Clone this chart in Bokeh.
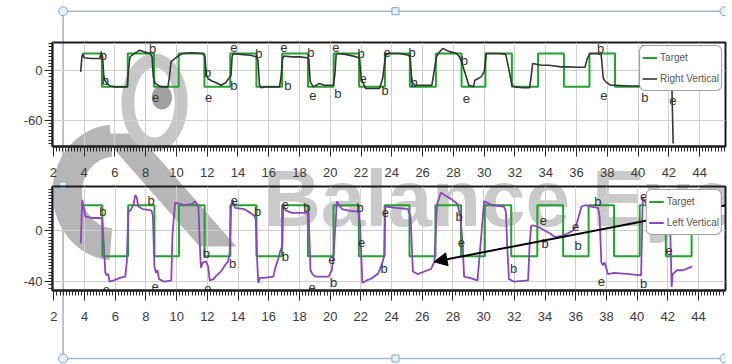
import numpy as np
from bokeh.plotting import figure
from bokeh.layouts import column
from bokeh.models import (SingleIntervalTicker, Arrow, NormalHead, Range1d,
                          PrintfTickFormatter)
from bokeh.core.properties import value
from bokeh.embed import file_html
from bokeh.resources import INLINE

# ------------------------------------------------------------------ data
target_x = [3.97, 5.16, 6.84, 8.55, 10.15, 11.82, 13.50, 15.20, 16.87, 18.55,
            20.22, 21.87, 23.55, 25.17, 26.86, 28.53, 30.08, 31.80, 33.50,
            35.18, 36.84, 38.50, 40.17, 41.87, 43.55, 43.60]
target_y = [20, -20, 20, -20, 20, -20, 20, -20, 20, -20, 20, -20, 20, -20,
            20, -20, 20, -20, 20, -20, 20, -20, 20, -20, 20, 20]

right_x = [3.78, 3.86, 3.92, 4.0, 4.5, 5.02, 5.1, 5.2, 5.28, 5.35, 5.5, 5.7, 6.0, 6.8,
           6.88, 6.98, 7.2, 7.45, 7.6, 7.9, 8.3, 8.42, 8.5, 8.6, 8.8, 9.0, 9.45,
           9.55, 9.65, 9.9, 10.1, 10.4, 11.0, 11.7, 11.85, 11.95, 12.05, 12.3, 12.6, 12.9, 13.2, 13.4, 13.55,
           13.62, 13.7, 14.2, 14.8, 15.2, 15.3, 15.4, 15.5, 15.8, 16.7,
           16.8, 16.9, 17.0, 17.5, 18.0, 18.5, 18.6, 18.7, 18.9, 19.3, 19.6, 20.2,
           20.3, 20.38, 20.5, 21.0, 21.7, 21.9, 22.0, 22.1, 22.3, 23.2, 23.4,
           23.6, 23.8, 24.5, 25.1, 25.2, 25.3, 25.5, 26.6,
           26.9, 27.1, 27.3, 27.8, 28.2, 28.4, 28.6, 29.0, 29.3, 29.4, 29.8, 30.0,
           30.14, 31.0, 31.4, 31.55, 31.8, 32.0, 32.5, 32.95, 33.05, 33.15, 33.7, 34.2,
           35.0, 35.5, 36.0, 36.55, 36.7, 36.87, 37.3, 37.6, 37.74, 37.9, 38.2, 38.5,
           39.5, 40.15, 40.3, 40.4, 41.0, 41.8, 42.0, 42.2, 42.28]
right_y = [-2, 16, 20, 15, 14, 14, 20, 17, -6, -12, -16, -19, -20, -20,
           -2, 16, 19, 22, 24, 22, 20, 16, -8, -15, -18, -20, -20,
           -8, 10, 14, 17, 20, 21, 20, 17, -6, -10, -13, -15, -18, -15, -10, -6,
           16, 20, 19, 18, 16, 12, -18, -21, -20, -20,
           -8, 14, 17, 16, 16, 15, 14, -14, -20, -16, -18, -18,
           -5, 19, 20, 19, 16, 14, -8, -14, -22, -22, -10,
           18, 20, 20, 18, 14, -14, -18, -18,
           16, 22, 26, 22, 20, 16, 6, -18, -20, -12, -8, -2,
           20, 20, 19, 6, -18, -20, -21, -21, -8, 8, 6, 6,
           4, 4, 3.5, 3.6, 14, 20, 20, 19, -10, -14, -18, -18,
           -19, -19, -5, 20, 20, 20, 10, -22, -88]

left_x = [3.75, 3.85, 3.95, 4.05, 4.5, 5.05, 5.15, 5.25, 5.35, 5.45, 5.55, 5.62, 5.9, 6.3, 6.65, 6.75, 6.85,
          7.0, 7.2, 7.3, 7.4, 7.5, 7.8, 8.35, 8.45, 8.55, 8.65, 8.75, 8.85, 9.2, 9.65, 9.72, 9.8, 9.9,
          10.2, 10.5, 11.0, 11.2, 11.3, 11.42, 11.5, 11.58, 11.7, 11.9, 12.05, 12.15, 12.4, 12.6, 12.8, 13.0, 13.15, 13.35, 13.45,
          13.55, 13.65, 13.8, 14.4, 14.8, 15.05, 15.15, 15.25, 15.32, 15.42, 15.7, 16.3, 16.45, 16.6, 16.75,
          16.88, 16.95, 17.1, 17.5, 18.0, 18.6, 18.72, 18.85, 19.04, 19.5, 19.9, 20.11, 20.22,
          20.44, 20.77, 21.3, 21.84, 21.95, 22.1, 22.38, 22.7, 23.13, 23.35, 23.52,
          23.6, 24.3, 25.07, 25.24, 25.39, 25.71, 26.14, 26.58, 26.8,
          26.97, 27.22, 27.44, 27.87, 28.3, 28.48, 28.63, 28.73, 29.1, 29.6, 29.86,
          30.03, 30.6, 31.32, 31.45, 31.55, 31.65, 32.0, 32.9, 33.0, 33.1, 33.3, 33.57, 34.0, 34.3, 34.65, 35.1, 35.5, 35.8, 36.0,
          36.38, 36.6, 37.0, 37.45, 37.56, 37.67, 37.78, 37.89, 38.1, 38.5, 39.5, 40.26,
          40.37, 40.5, 40.7, 41.2, 42.0, 42.15, 42.25, 42.32, 42.6, 43.0, 43.3, 43.6]
left_y = [-10, 24, 18, 11, 10, 10, 9, -10, -33, -35, -34, -40, -39, -37, -36, -25, 15,
          16, 21, 28, 26, 19, 17, 16, 12, -28, -33, -31, -38, -40, -39, -5, 8, 22,
          21, 20, 21, 23, 21, 19, -8, -29, -25, -24, -28, -39, -38, -35, -33, -30, -27, -24, -18,
          20, 24, 18, 17, 14, 12, 9, -25, -41, -37, -37, -36, -28, -23, -16,
          -12, 20, 16, 14, 14, 14, -31, -34, -36, -36, -36, -31, -20,
          23, 17, 15.5, 15, 5, -41, -39, -37.5, -33.6, -27, -20,
          19, 18, 17, 11, -32, -34, -32, -30, -24,
          21, 30, 28, 25, 21, 11, -10, -36, -37, -39, -2,
          23, 20, 19, 15, -15, -38, -40, -39, -10, 4, 4, 3, 0, -2, -5, -4, -2, 0, 3,
          19, 20, 19, 18, 11, -25, -27, -25, -34, -33, -34, -35,
          26, 23, 20, 19, 18, 5, -44, -34, -31, -31, -29.5, -28]

top_mark_x = [5.26, 5.39, 8.45, 8.65, 12.03, 12.1, 13.73, 13.73, 15.36, 16.98, 17.24,
              18.74, 18.87, 20.5, 20.37, 22.0, 22.13, 23.69, 23.56, 25.32, 25.45,
              28.71, 28.84, 37.57, 37.77, 40.37, 40.44, 42.26]
top_mark_y = [17.6, -12.4, 26, -32.8, -2.8, -32.8, 27.2, -18.4, 20, 27.2, -18.4,
              21.2, -30.4, -28, 27.2, 20, -10, 21.2, -24.4, 21.2, -14.8,
              11.6, -34, 26, -30.4, 27.2, -32.8, -36.4]
top_mark_text = ["b", "b", "b", "e", "b", "e", "e", "b", "b", "e", "b",
                 "b", "e", "b", "e", "b", "e", "e", "b", "b", "b",
                 "b", "e", "b", "e", "e", "b", "e"]

bot_mark_x = [5.19, 5.42, 8.33, 8.59, 11.93, 13.65, 12.04, 13.76, 15.27, 17.09, 17.09,
              18.48, 18.82, 20.11, 20.22, 21.95, 22.05, 23.52, 23.6, 28.41, 28.55,
              31.96, 33.9, 34.0, 35.99, 36.16, 37.45, 37.67, 40.43, 40.43, 42.08]
bot_mark_y = [14.8, -46, 24, -44, -17.9, -25.7, -45, 24, 14.8, -20.2, 20.8,
              18.2, -44.9, -22.8, -40.6, 18.2, -9.3, -29.6, 14.5, 10.9, -9,
              -29.6, 8.2, -10, 3, -11.4, 22.6, -40, -41.4, 26.6, -15.3]
bot_mark_text = ["b", "e", "b", "e", "b", "b", "e", "e", "b", "b", "e",
                 "b", "e", "e", "b", "b", "e", "b", "e", "b", "e",
                 "b", "e", "b", "e", "b", "b", "e", "b", "e", "e"]

watermark_text = "Balance Eye"

# ------------------------------------------------------------------ style / layout
FONT = "Liberation Sans"
GREEN = "#23a22f"
DARK = "#353535"
PURPLE = "#8a47bd"
PAGE_W, PAGE_H = 732, 364
PH = 182  # height of each panel figure

TOP = dict(L=52, R=725, T=42, B=146, x=(1.95, 45.68), y=(-91.6, 33.25), top=0)
BOT = dict(L=46, R=725, T=186, B=290, x=(1.91, 45.76), y=(-46.9, 34.7), top=182)


def to_data(m, px, py):
    X = m["x"][0] + (px - m["L"]) / (m["R"] - m["L"]) * (m["x"][1] - m["x"][0])
    Y = m["y"][1] - (py - m["T"]) / (m["B"] - m["T"]) * (m["y"][1] - m["y"][0])
    return float(X), float(Y)


def make_panel(m, yint, yminor):
    p = figure(width=PAGE_W, height=PH, x_range=Range1d(*m["x"]), y_range=Range1d(*m["y"]),
               output_backend="svg", toolbar_location=None,
               min_border_left=m["L"], min_border_right=PAGE_W - m["R"],
               min_border_top=m["T"] - m["top"], min_border_bottom=m["top"] + PH - m["B"])
    p.background_fill_alpha = 0
    p.border_fill_alpha = 0
    p.outline_line_color = "#1c1c1c"
    p.outline_line_width = 2
    p.xaxis.ticker = SingleIntervalTicker(interval=2, num_minor_ticks=10)
    p.yaxis.ticker = SingleIntervalTicker(interval=yint, num_minor_ticks=yminor)
    p.yaxis.formatter = PrintfTickFormatter(format="%d")
    p.xgrid.ticker = SingleIntervalTicker(interval=2)
    p.ygrid.ticker = SingleIntervalTicker(interval=yint)
    for g in (p.xgrid, p.ygrid):
        g.grid_line_color = "#d0d0d0"
        g.grid_line_width = 1
    for ax in (p.xaxis, p.yaxis):
        ax.axis_line_color = "#1c1c1c"
        ax.axis_line_width = 2
        ax.major_tick_line_color = "#2a2a2a"
        ax.minor_tick_line_color = "#2a2a2a"
        ax.major_tick_in = 0
        ax.minor_tick_in = 0
        ax.major_label_text_font = FONT
        ax.major_label_text_font_size = "13px"
        ax.major_label_text_color = "#3a3a3a"
    p.xaxis.major_tick_out = 10
    p.xaxis.minor_tick_out = 5
    p.xaxis.major_label_standoff = 11
    p.yaxis.major_tick_out = 8
    p.yaxis.minor_tick_out = 4
    p.yaxis.major_label_standoff = 2
    p.styles = {"position": "absolute", "left": "0px", "top": f"{m['top']}px"}
    return p


def style_legend(p):
    lg = p.legend[0]
    lg.location = "top_right"
    lg.margin = 3
    lg.padding = 2
    lg.spacing = 2
    lg.label_height = 19
    lg.glyph_height = 19
    lg.glyph_width = 15
    lg.label_standoff = 3
    lg.label_text_font = FONT
    lg.label_text_font_size = "10px"
    lg.label_text_color = "#555555"
    lg.border_line_color = "#444444"
    lg.border_line_width = 1.5
    lg.background_fill_color = "white"
    lg.background_fill_alpha = 1
    try:
        lg.border_radius = 6
    except AttributeError:
        pass


# ------------------------------------------------------------------ page background (watermark, selection frame)
bg = figure(width=PAGE_W, height=PAGE_H, x_range=Range1d(0, PAGE_W), y_range=Range1d(PAGE_H, 0),
            output_backend="svg", toolbar_location=None, min_border=0,
            x_axis_type=None, y_axis_type=None)
bg.grid.visible = False
bg.outline_line_color = None
bg.background_fill_color = "white"
bg.border_fill_color = "white"

a = np.linspace(0, 2 * np.pi, 73)
# logo: lower swirl
th = np.linspace(np.radians(95), np.radians(265), 40)
lx, ly, ro, ri = 68, 192, 68, 36
bg.patch(np.concatenate([lx + ro * np.cos(th), lx + ri * np.cos(th[::-1])]),
         np.concatenate([ly + ro * np.sin(th), ly + ri * np.sin(th[::-1])]),
         fill_color="#b6b6b6", line_alpha=0)
bg.patch([52, 92, 200, 160], [133, 133, 246, 246], fill_color="#b6b6b6", line_alpha=0)
# logo: ring + inner blob
cx, cy, rx, ry, t = 111, 102, 36, 49, 14
bg.patch(np.concatenate([cx + rx * np.cos(a), cx + (rx - t) * np.cos(a[::-1])]),
         np.concatenate([cy + ry * np.sin(a), cy + (ry - t) * np.sin(a[::-1])]),
         fill_color="#c6c6c6", line_alpha=0)
bg.patch(119 + 11 * np.cos(a), 97 + 12 * np.sin(a), fill_color="#a0a0a0", line_alpha=0)

bg.text(x=[229], y=[198], text=[watermark_text], text_font=value("Liberation Sans"),
        text_font_style="bold", text_font_size="80px", text_color="#cacaca",
        text_baseline="alphabetic", text_align="left")

SEL = "#a5b9ce"
bg.segment(x0=[11.5, 11.5, 11.5], y0=[10.7, 10.7, 358], x1=[732, 11.5, 732], y1=[10.7, 358, 358],
           line_color=SEL, line_width=1.6)
bg.scatter(x=[11.5, 731, 11.5, 731], y=[10.7, 10.7, 358, 358], marker="circle", size=9,
           fill_color="#e3f2f6", line_color="#8aa5c0", line_width=1)
bg.scatter(x=[373, 11.5, 373], y=[10.7, 185, 358], marker="square", size=7,
           fill_color="#e3f2f6", line_color="#8aa5c0", line_width=1)

# ------------------------------------------------------------------ top panel
p1 = make_panel(TOP, 60, 15)
p1.step(target_x, target_y, mode="after", line_color=GREEN, line_width=2,
        legend_label="Target")
p1.line(right_x, right_y, line_color=DARK, line_width=1.6, legend_label="Right Vertical")
p1.text(x=top_mark_x, y=top_mark_y, text=top_mark_text, text_font=value(FONT),
        text_font_size="13px", text_color="#333333", text_align="center",
        text_baseline="middle")
style_legend(p1)

# ------------------------------------------------------------------ bottom panel
p2 = make_panel(BOT, 40, 16)
p2.step(target_x, target_y, mode="after", line_color=GREEN, line_width=2,
        legend_label="Target")
p2.line(left_x, left_y, line_color=PURPLE, line_width=1.8, legend_label="Left Vertical")
p2.text(x=bot_mark_x, y=bot_mark_y, text=bot_mark_text, text_font=value(FONT),
        text_font_size="13px", text_color="#333333", text_align="center",
        text_baseline="middle")
style_legend(p2)

ax0, ay0 = to_data(BOT, 731, 203.7)
ax1, ay1 = to_data(BOT, 431, 261.3)
p2.add_layout(Arrow(end=NormalHead(size=13, fill_color="black", line_color="black"),
                    x_start=ax0, y_start=ay0, x_end=ax1, y_end=ay1,
                    line_color="black", line_width=2))

layout = column(bg, p1, p2, spacing=0)
open("out.html", "w").write(file_html(layout, INLINE))
